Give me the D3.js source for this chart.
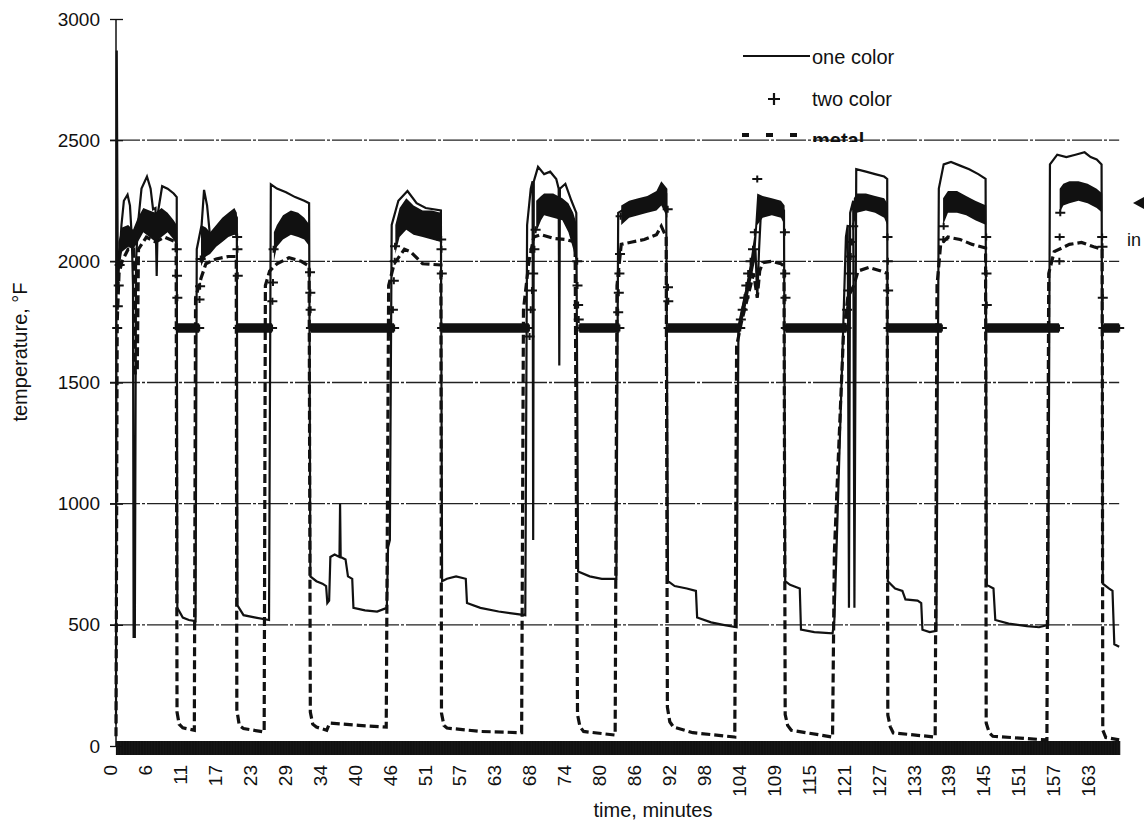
<!DOCTYPE html>
<html>
<head>
<meta charset="utf-8">
<script src="https://cdn.jsdelivr.net/npm/d3@7.9.0/dist/d3.min.js"></script>
<style>
  body { margin: 0; background: #fff; }
  text { font-family: "Liberation Sans", Arial, sans-serif; fill: #111; }
</style>
</head>
<body>
<div id="vis"></div>
<script>
// category labels shown under the time axis
const tickLabels = ["0", "6", "11", "17", "23", "29", "34", "40", "46", "51", "57", "63", "68", "74",
  "80", "86", "92", "98", "104", "109", "115", "121", "127", "133", "139", "145", "151", "157", "163"];
const yTicks = [0, 500, 1000, 1500, 2000, 2500, 3000];
const gridValues = [500, 1000, 1500, 2000, 2500];

// one color pyrometer [minute, °F]
const oneColor = [
  [0.0, 90], [0.12, 2870], [0.3, 1900], [0.9, 2150], [1.3, 2250], [1.9, 2275], [2.3, 2230], [2.6, 2100], [2.8, 1900],
  [2.9, 450], [3.1, 450], [3.3, 2000], [3.6, 2150], [4.2, 2300], [5.1, 2350], [5.7, 2300], [6.1, 2215], [6.5, 2220],
  [6.7, 1940], [6.9, 2200], [7.6, 2310], [8.5, 2300], [9.5, 2280], [10.0, 2265],
  [10.1, 570], [11.0, 530], [12.0, 520], [13.1, 515],
  [13.3, 2050], [14.1, 2150], [14.5, 2295], [15.0, 2230], [15.5, 2100], [16.5, 2130], [17.5, 2170], [18.5, 2190], [19.5, 2200], [19.9, 2180],
  [20.0, 580], [21.0, 540], [23.0, 530], [25.2, 520],
  [25.5, 2318], [26.5, 2300], [28.0, 2285], [29.5, 2265], [31.0, 2250], [31.8, 2240],
  [32.0, 700], [33.0, 680], [34.0, 670], [34.6, 660], [34.8, 590], [35.1, 600], [35.3, 780], [36.0, 790], [36.8, 780],
  [36.9, 1000], [37.0, 780], [37.8, 770], [38.2, 700], [38.9, 690], [39.1, 570], [41.0, 560], [43.0, 555], [44.6, 570],
  [44.8, 820], [45.1, 850],
  [45.4, 2150], [46.5, 2250], [48.0, 2290], [49.5, 2240], [51.0, 2220], [53.5, 2210],
  [53.7, 680], [54.5, 690], [56.0, 700], [57.6, 690], [57.8, 590], [60.0, 570], [63.0, 555], [67.4, 540],
  [67.7, 2150], [68.3, 2300], [68.6, 2330], [68.7, 850], [68.8, 2330], [69.5, 2390], [70.5, 2360], [71.5, 2370],
  [72.5, 2340], [72.9, 2300], [73.0, 1570], [73.1, 2300], [74.0, 2320], [75.0, 2250], [75.8, 2200],
  [76.1, 720], [78.0, 700], [80.0, 690], [82.4, 690],
  [82.7, 2200], [84.0, 2220], [86.0, 2230], [88.0, 2240], [89.3, 2260], [89.8, 2310], [90.6, 2280],
  [90.9, 680], [92.0, 660], [94.0, 650], [95.5, 640], [95.7, 530], [98.0, 510], [100.0, 500], [102.2, 490],
  [102.5, 1730], [103.5, 1850], [104.5, 1950], [105.3, 2050], [105.6, 1850], [105.9, 2050], [106.3, 2250],
  [107.5, 2240], [109.0, 2230], [110.0, 2210],
  [110.2, 680], [111.0, 665], [112.6, 650], [112.8, 480], [115.0, 470], [118.0, 465],
  [118.3, 520], [119.7, 1680], [120.2, 2100], [120.5, 2150], [120.7, 570], [120.9, 2200], [121.4, 2250], [121.6, 570],
  [121.9, 2380], [123.5, 2370], [125.0, 2360], [126.5, 2350], [127.0, 2340],
  [127.1, 680], [128.3, 650], [129.5, 640], [130.0, 605], [132.0, 600], [132.6, 590], [132.8, 480], [134.0, 470], [135.1, 475],
  [135.5, 2300], [136.3, 2400], [137.5, 2410], [139.0, 2395], [140.5, 2380], [142.0, 2360], [143.2, 2340],
  [143.4, 665], [144.5, 650], [144.8, 520], [147.0, 505], [150.0, 495], [152.0, 490], [153.5, 500],
  [153.8, 2400], [155.0, 2440], [156.5, 2430], [158.0, 2440], [159.5, 2450], [160.5, 2430], [161.5, 2420], [162.3, 2400],
  [162.5, 670], [163.5, 650], [164.1, 640], [164.4, 420], [165.2, 410]
];

// two color pyrometer: dense runs of readings [minute, low, high], null = gap
const twoColorBand = [
  [0.4, 1950, 2080], [1.0, 2040, 2140], [2.0, 2060, 2150], [2.8, 2050, 2130], [3.6, 2080, 2180], [4.5, 2120, 2220],
  [5.5, 2100, 2210], [6.5, 2080, 2200], [7.5, 2100, 2220], [8.5, 2120, 2200], [9.5, 2090, 2170], [10.0, 2060, 2150],
  null, [10.1, 1705, 1745], [13.7, 1705, 1745],
  null, [14.0, 1980, 2150], [14.8, 2020, 2140], [15.5, 2030, 2120], [16.5, 2060, 2150], [17.5, 2080, 2180],
  [18.5, 2100, 2200], [19.5, 2110, 2220], [19.9, 2100, 2200],
  null, [20.0, 1705, 1745], [25.7, 1705, 1745],
  null, [26.0, 2000, 2120], [26.5, 2060, 2150], [27.5, 2090, 2190], [28.8, 2110, 2210], [30.0, 2100, 2200],
  [31.0, 2090, 2180], [31.9, 2060, 2150],
  null, [32.1, 1705, 1745], [45.8, 1705, 1745],
  null, [46.0, 2030, 2150], [46.7, 2100, 2220], [47.8, 2130, 2260], [49.0, 2110, 2230], [50.5, 2100, 2210],
  [52.0, 2090, 2210], [53.5, 2080, 2200],
  null, [53.7, 1705, 1745], [68.0, 1705, 1745],
  null, [69.2, 2120, 2250], [70.0, 2170, 2270], [70.5, 2190, 2280], [72.0, 2180, 2280], [73.5, 2170, 2260],
  [74.5, 2120, 2240], [75.3, 2050, 2200], [75.9, 1980, 2150],
  null, [76.3, 1705, 1745], [82.9, 1705, 1745],
  null, [83.2, 2150, 2230], [84.5, 2180, 2250], [86.0, 2190, 2260], [87.5, 2200, 2270], [89.0, 2210, 2290],
  [89.8, 2230, 2330], [90.8, 2180, 2300],
  null, [90.9, 1705, 1745], [102.8, 1705, 1745],
  null, [102.8, 1720, 1780], [103.6, 1800, 1880], [104.4, 1900, 1990], [105.2, 2000, 2120], [105.6, 2150, 2280],
  [106.5, 2180, 2270], [108.0, 2190, 2260], [109.5, 2180, 2250], [110.1, 2150, 2230],
  null, [110.3, 1705, 1745], [120.3, 1705, 1745],
  null, [121.5, 2150, 2260], [122.0, 2200, 2280], [123.5, 2210, 2280], [125.0, 2200, 2270], [126.5, 2180, 2260],
  [127.0, 2150, 2240],
  null, [127.2, 1705, 1745], [136.0, 1705, 1745],
  null, [136.2, 2150, 2260], [137.0, 2200, 2290], [138.5, 2200, 2290], [140.0, 2190, 2270], [141.5, 2170, 2250],
  [143.3, 2150, 2230],
  null, [143.45, 1705, 1745], [155.3, 1705, 1745],
  null, [155.4, 2200, 2300], [156.0, 2230, 2320], [157.0, 2240, 2330], [158.5, 2250, 2330], [160.0, 2240, 2320],
  [161.5, 2220, 2300], [162.4, 2200, 2280],
  null, [162.6, 1705, 1745], [165.2, 1705, 1745]
];

// two color single readings on the edges [minute, °F]
const twoColorMarks = [
  [0.2, 1725], [0.3, 1815], [0.45, 1900], [0.6, 1985], [10.0, 2050], [10.05, 1940], [10.1, 1850],
  [10.2, 1725], [13.7, 1725], [13.75, 1843], [13.85, 1897], [13.95, 2010], [19.95, 2100], [20.0, 2050], [20.05, 1940],
  [20.1, 1725], [25.7, 1725], [25.75, 1835], [25.85, 1913], [25.95, 2050], [31.95, 1955], [32.0, 1870], [32.05, 1800],
  [32.1, 1725], [45.8, 1725], [45.6, 1800], [45.75, 1920], [45.9, 2000], [45.95, 2062], [53.55, 2090], [53.6, 2050], [53.65, 1950],
  [53.7, 1725], [68.0, 1725], [68.1, 1690], [68.3, 1800], [68.5, 1880], [68.7, 1950], [68.9, 2050], [69.1, 2130],
  [75.95, 2000], [76.0, 1900], [76.1, 1820], [76.2, 1760],
  [76.3, 1725], [82.9, 1725], [82.7, 1790], [82.8, 1870], [82.9, 1950], [83.0, 2030], [83.1, 2186],
  [90.85, 2215], [90.9, 1893], [90.95, 1835],
  [91.0, 1725], [102.8, 1725], [102.9, 1760], [103.2, 1800], [103.5, 1850], [103.8, 1900], [104.1, 1950], [104.5, 2000],
  [104.9, 2050], [105.2, 2120], [105.6, 2340], [110.15, 2120], [110.2, 1950], [110.25, 1850],
  [110.3, 1725], [120.3, 1725], [120.4, 1800], [120.6, 1880], [120.8, 1950], [121.0, 2020], [121.2, 2080], [121.4, 2145],
  [127.05, 2100], [127.1, 2000], [127.15, 1880],
  [127.2, 1725], [136.0, 1725], [136.25, 2090], [136.3, 2145], [143.3, 2100], [143.35, 1950], [143.4, 1820],
  [143.45, 1725], [155.3, 1725], [155.35, 2000], [155.4, 2100], [155.5, 2200], [162.4, 2100], [162.45, 2060], [162.5, 1850],
  [162.6, 1725], [165.2, 1725]
];

// metal thermocouple [minute, °F]
const metal = [
  [0.0, 40], [0.2, 1750], [0.5, 1950], [1.0, 2000], [2.0, 2050], [2.9, 2050], [3.1, 1540], [3.5, 1540], [3.7, 2050],
  [5.0, 2100], [6.5, 2080], [8.0, 2100], [9.9, 2080],
  [10.05, 140], [10.4, 90], [11.0, 75], [12.9, 65],
  [13.1, 1850], [14.0, 1930], [14.8, 1990], [16.5, 2010], [18.5, 2020], [19.8, 2020],
  [19.9, 150], [20.3, 85], [21.0, 72], [24.4, 58],
  [24.6, 1900], [25.3, 1960], [26.5, 1990], [28.5, 2015], [30.5, 2000], [31.8, 1980],
  [32.0, 140], [32.4, 90], [33.0, 78], [34.7, 65], [35.2, 95], [40.0, 85], [44.5, 78],
  [44.9, 1900], [45.8, 1990], [47.5, 2050], [48.5, 2040], [50.5, 1990], [53.5, 1985],
  [53.6, 136], [54.0, 85], [54.5, 74], [60.0, 60], [66.8, 55],
  [67.1, 1800], [68.0, 2000], [68.8, 2100], [70.0, 2110], [72.0, 2095], [74.0, 2090], [75.6, 2080],
  [76.0, 130], [76.4, 80], [77.0, 60], [82.2, 45],
  [82.5, 1900], [83.2, 2070], [85.0, 2080], [87.0, 2090], [89.0, 2110], [89.8, 2145], [90.6, 2100],
  [90.8, 160], [91.2, 100], [91.8, 78], [95.0, 55], [101.9, 37],
  [102.2, 1650], [103.0, 1750], [104.0, 1850], [105.0, 1950], [105.6, 1850], [106.0, 1960], [106.5, 1995],
  [108.0, 2000], [109.5, 1990], [110.0, 1980],
  [110.2, 130], [110.6, 85], [111.2, 65], [118.0, 37],
  [118.3, 800], [119.8, 1700], [120.5, 1850], [121.5, 1900], [122.2, 1960], [124.0, 1975], [126.0, 1960], [127.0, 1950],
  [127.1, 128], [127.5, 80], [128.0, 54], [134.9, 37],
  [135.2, 1900], [135.8, 2070], [137.0, 2100], [139.0, 2090], [141.0, 2070], [143.2, 2055],
  [143.3, 95], [143.8, 55], [144.4, 40], [153.3, 25],
  [153.6, 1950], [154.5, 2040], [157.0, 2070], [159.0, 2078], [161.0, 2060], [162.4, 2050],
  [162.5, 66], [163.0, 35], [165.2, 25]
];

const width = 1145;
const height = 825;
const xScale = d3.scaleLinear().domain([0, 165.5]).range([116, 1121]);
const yScale = d3.scaleLinear().domain([0, 3000]).range([746, 19]);
const labelScale = d3.scalePoint().domain(tickLabels).range([110, 1088]);

const svg = d3
  .select("#vis")
  .append("svg")
  .attr("width", width)
  .attr("height", height);

// Gridlines
svg
  .append("g")
  .selectAll("line")
  .data(gridValues)
  .enter()
  .append("line")
  .attr("x1", 110)
  .attr("x2", xScale(165.2))
  .attr("y1", (d) => yScale(d))
  .attr("y2", (d) => yScale(d))
  .attr("stroke", "#222")
  .attr("stroke-width", 1.4)
  .attr("stroke-dasharray", "30,2,3,2");

// Metal (dashed)
const line = d3
  .line()
  .x((d) => xScale(d[0]))
  .y((d) => yScale(d[1]));

svg
  .append("path")
  .attr("d", line(metal))
  .attr("fill", "none")
  .attr("stroke", "#111")
  .attr("stroke-width", 3.2)
  .attr("stroke-dasharray", "9,4");

// One color (solid)
svg
  .append("path")
  .attr("d", line(oneColor))
  .attr("fill", "none")
  .attr("stroke", "#111")
  .attr("stroke-width", 2.2);

// Two color: dense runs of + marks drawn as filled bands
const band = d3
  .area()
  .defined((d) => d !== null)
  .x((d) => xScale(d[0]))
  .y0((d) => yScale(d[1]))
  .y1((d) => yScale(d[2]));

svg.append("path").attr("d", band(twoColorBand)).attr("fill", "#111");

svg
  .append("g")
  .selectAll("path")
  .data(twoColorMarks)
  .enter()
  .append("path")
  .attr("transform", (d) => `translate(${xScale(d[0])},${yScale(d[1])})`)
  .attr("d", "M-5,0H5M0,-3.5V3.5")
  .attr("stroke", "#111")
  .attr("stroke-width", 2);

// Y axis
svg
  .append("line")
  .attr("x1", 116)
  .attr("x2", 116)
  .attr("y1", yScale(0))
  .attr("y2", yScale(3000))
  .attr("stroke", "#111")
  .attr("stroke-width", 1.5);

const yAxis = svg
  .append("g")
  .attr("transform", "translate(123,0)")
  .call(
    d3
      .axisLeft(yScale)
      .tickValues(yTicks)
      .tickFormat(d3.format("d"))
      .tickSizeInner(13)
      .tickSizeOuter(0)
      .tickPadding(10)
  );
yAxis.select(".domain").remove();
yAxis.selectAll("line").attr("stroke", "#111").attr("stroke-width", 1.3);
yAxis.selectAll("text").style("font-size", "19px").attr("fill", "#111");

// X axis: the dense category ticks merge into a black strip
const xBand = svg
  .append("g")
  .attr("transform", "translate(0,741)")
  .call(d3.axisBottom(xScale).tickValues(d3.range(0, 165.3, 0.1)).tickSize(14).tickFormat(""));
xBand.select(".domain").remove();
xBand.selectAll("line").attr("stroke", "#111").attr("stroke-width", 1.2);

const xAxis = svg
  .append("g")
  .attr("transform", "translate(0,765)")
  .call(d3.axisBottom(labelScale).tickSize(0));
xAxis.select(".domain").remove();
xAxis
  .selectAll("text")
  .attr("transform", "rotate(-90)")
  .attr("text-anchor", "end")
  .attr("x", 0)
  .attr("y", 0)
  .attr("dy", "0.35em")
  .style("font-size", "19px")
  .attr("fill", "#111");

// Axis titles
svg
  .append("text")
  .attr("text-anchor", "middle")
  .attr("transform", "translate(27,352) rotate(-90)")
  .style("font-size", "20px")
  .text("temperature, °F");

svg
  .append("text")
  .attr("text-anchor", "middle")
  .attr("x", 653)
  .attr("y", 817)
  .style("font-size", "20px")
  .text("time, minutes");

// Legend
const legend = svg.append("g");
legend
  .append("line")
  .attr("x1", 743)
  .attr("x2", 810)
  .attr("y1", 56)
  .attr("y2", 56)
  .attr("stroke", "#111")
  .attr("stroke-width", 2);
legend
  .append("path")
  .attr("transform", "translate(774,99)")
  .attr("d", "M-6,0H6M0,-6V6")
  .attr("stroke", "#111")
  .attr("stroke-width", 2.2);
legend
  .append("line")
  .attr("x1", 742)
  .attr("x2", 800)
  .attr("y1", 135)
  .attr("y2", 135)
  .attr("stroke", "#111")
  .attr("stroke-width", 4)
  .attr("stroke-dasharray", "7,17");

legend.append("text").attr("x", 812).attr("y", 64).style("font-size", "20px").text("one color");
legend.append("text").attr("x", 812).attr("y", 106).style("font-size", "20px").text("two color");

svg
  .append("clipPath")
  .attr("id", "legend-clip")
  .append("rect")
  .attr("x", 800)
  .attr("y", 120)
  .attr("width", 120)
  .attr("height", 22);
legend
  .append("text")
  .attr("x", 812)
  .attr("y", 147)
  .attr("clip-path", "url(#legend-clip)")
  .style("font-size", "20px")
  .style("font-weight", "bold")
  .text("metal");

// Note at the right edge
svg
  .append("path")
  .attr("d", "M1133,203L1144,197L1144,209Z")
  .attr("fill", "#111");
svg.append("text").attr("x", 1127).attr("y", 246).style("font-size", "18px").text("in");
</script>
</body>
</html>
